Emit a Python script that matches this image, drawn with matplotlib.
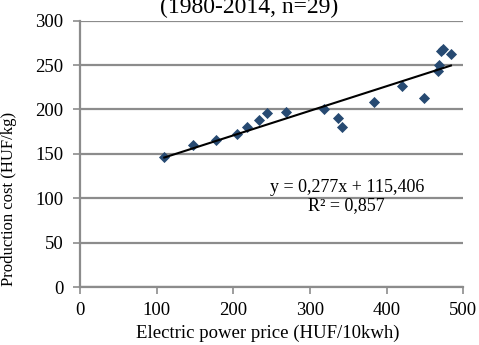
import matplotlib.pyplot as plt

plt.rcParams["font.family"] = ["Liberation Serif", "DejaVu Serif"]

# electric power price (HUF/10kwh) vs production cost (HUF/kg)
price = [110, 148, 177, 205, 218, 233, 244, 269, 318, 336, 342,
         383, 420, 449, 467, 469, 471, 474, 484]
cost = [147, 160, 166, 172, 180, 188, 196, 197, 200, 190, 180,
        208, 226, 213, 243, 250, 266, 268, 263]

slope = 0.277
intercept = 115.406
r2 = 0.857

fig = plt.figure(figsize=(4.79, 3.45), dpi=100)
ax = fig.add_axes([0.167, 0.168, 0.800, 0.772])

grid = "#8c8c8c"
ax.set_xlim(0, 500)
ax.set_ylim(0, 300)
ax.set_xticks(range(0, 501, 100))
ax.set_yticks(range(0, 301, 50))
ax.yaxis.grid(True, color=grid, linewidth=1.6)
ax.set_axisbelow(True)
for side in ("top", "right"):
    ax.spines[side].set_visible(False)
for side in ("left", "bottom"):
    ax.spines[side].set_color(grid)
    ax.spines[side].set_linewidth(1.6)
ax.tick_params(axis="both", color=grid, width=1.2, length=5,
               labelsize=13.5)
ax.tick_params(axis="y", pad=7)
ax.tick_params(axis="x", pad=6)

ax.scatter(price, cost, marker="D", s=32, color="#274a72", zorder=3,
           linewidths=0)

x0, x1 = min(price), max(price)
ax.plot([x0, x1], [slope * x0 + intercept, slope * x1 + intercept],
        color="black", linewidth=1.5, zorder=4)

eq = f"y = {slope:.3f}x + {intercept:.3f}".replace(".", ",")
rr = f"R² = {r2:.3f}".replace(".", ",")
ax.text(348, 102, eq + "\n" + rr, ha="center", va="center",
        fontsize=13, linespacing=1.15, zorder=5)

ax.set_xlabel("Electric power price (HUF/10kwh)", fontsize=13.5)
ax.xaxis.set_label_coords(0.49, -0.142)
ax.set_ylabel("Production cost (HUF/kg)", fontsize=12)
ax.yaxis.set_label_coords(-0.164, 0.33)

fig.text(0.52, 1 - 13 / 345, "(1980-2014, n=29)", ha="center",
         va="baseline", fontsize=17)

fig.savefig("out.png", dpi=100)
